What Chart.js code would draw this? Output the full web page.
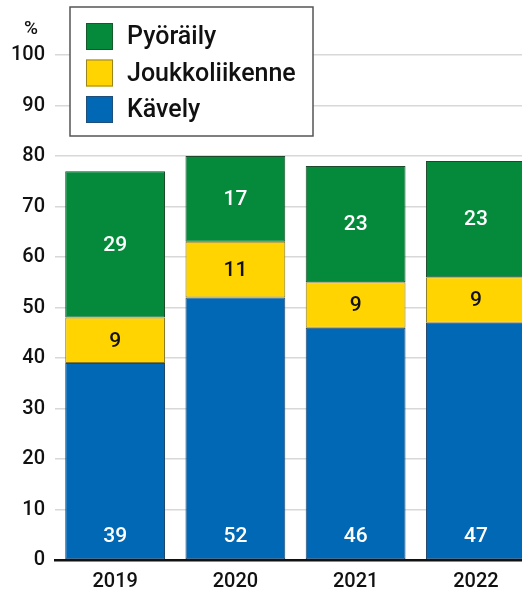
<!doctype html>
<html lang="fi">
  <head>
    <meta charset="utf-8">
    <title>Kulkutavat</title>
    <style>
      * { margin: 0; padding: 0; }
      body { background: #fff; overflow: hidden; width: 522px; height: 593px; }
      .chartBox { width: 536px; height: 593px; }
    </style>
  </head>
  <body>
    <div class="chartBox">
      <canvas id="myChart"></canvas>
    </div>
    <script src="https://cdn.jsdelivr.net/npm/chart.js"></script>
    <script>
    // data
    const years = ['2019', '2020', '2021', '2022'];
    const kavely = [39, 52, 46, 47];
    const joukkoliikenne = [9, 11, 9, 9];
    const pyoraily = [29, 17, 23, 23];
    const yTicks = [0, 10, 20, 30, 40, 50, 60, 70, 80, 90, 100];

    const FONT = "Roboto, 'Liberation Sans', Arial, sans-serif";

    // legend order top -> bottom
    const legendItems = [
      { label: 'Pyöräily', fill: '#058a3b', border: '#145a2a' },
      { label: 'Joukkoliikenne', fill: '#ffd400', border: '#9a8420' },
      { label: 'Kävely', fill: '#0068b4', border: '#1d4f7a' }
    ];

    const data = {
      labels: years,
      datasets: [
        { label: 'Kävely', data: kavely, backgroundColor: '#0068b4', borderColor: '#22456a', textColor: '#fff', bottomLabel: true },
        { label: 'Joukkoliikenne', data: joukkoliikenne, backgroundColor: '#ffd400', borderColor: '#8a7a2a', textColor: '#111' },
        { label: 'Pyöräily', data: pyoraily, backgroundColor: '#058a3b', borderColor: '#1d4a2c', textColor: '#fff' }
      ].map(d => Object.assign(d, { borderWidth: 1, borderSkipped: false, barPercentage: 0.83, categoryPercentage: 1 }))
    };

    // value labels inside the bars
    const valueLabels = {
      id: 'valueLabels',
      afterDatasetsDraw(chart) {
        const ctx = chart.ctx;
        ctx.save();
        ctx.font = '500 21px ' + FONT;
        ctx.textAlign = 'center';
        ctx.textBaseline = 'middle';
        chart.data.datasets.forEach((ds, i) => {
          chart.getDatasetMeta(i).data.forEach((bar, j) => {
            const y = ds.bottomLabel ? bar.base - 23 : (bar.y + bar.base) / 2 + 1;
            ctx.fillStyle = ds.textColor;
            ctx.fillText(ds.data[j], bar.x, y);
          });
        });
        ctx.restore();
      }
    };

    // boxed legend and % unit
    const boxLegend = {
      id: 'boxLegend',
      afterDraw(chart) {
        const ctx = chart.ctx;
        ctx.save();
        ctx.fillStyle = '#fff';
        ctx.fillRect(70, 7, 243, 129);
        ctx.strokeStyle = '#555';
        ctx.lineWidth = 1.5;
        ctx.strokeRect(70, 7, 243, 129);
        ctx.font = '500 25px ' + FONT;
        ctx.textBaseline = 'middle';
        ctx.textAlign = 'left';
        legendItems.forEach((it, i) => {
          const top = 23 + i * 36.5;
          ctx.fillStyle = it.fill;
          ctx.fillRect(86, top, 27, 27);
          ctx.strokeStyle = it.border;
          ctx.lineWidth = 1;
          ctx.strokeRect(86.5, top + 0.5, 26, 26);
          ctx.fillStyle = '#111';
          ctx.fillText(it.label, 127, top + 15);
        });
        ctx.font = '500 19px ' + FONT;
        ctx.textAlign = 'center';
        ctx.fillText('%', 31, 29);
        ctx.restore();
      }
    };

    const config = {
      type: 'bar',
      data,
      options: {
        responsive: true,
        maintainAspectRatio: false,
        animation: false,
        layout: { padding: { top: 55, left: 0, right: 0, bottom: 0 } },
        scales: {
          x: {
            stacked: true,
            grid: { display: false, drawTicks: false },
            border: { display: true, color: '#111', width: 2.5 },
            ticks: { color: '#111', font: { family: FONT, size: 20, weight: '500' }, padding: 10 },
            afterFit(s) { s.height = 33; }
          },
          y: {
            stacked: true,
            min: 0,
            max: 100,
            afterBuildTicks(s) { s.ticks = yTicks.map(v => ({ value: v })); },
            grid: { color: '#d8d8d8', lineWidth: 1.5, drawTicks: false },
            border: { display: false },
            ticks: { color: '#111', font: { family: FONT, size: 20, weight: '500' }, padding: 10 },
            afterFit(s) { s.width = 55; }
          }
        },
        plugins: {
          legend: { display: false },
          tooltip: { enabled: false }
        }
      },
      plugins: [valueLabels, boxLegend]
    };

    const myChart = new Chart(document.getElementById('myChart'), config);
    </script>
  </body>
</html>
